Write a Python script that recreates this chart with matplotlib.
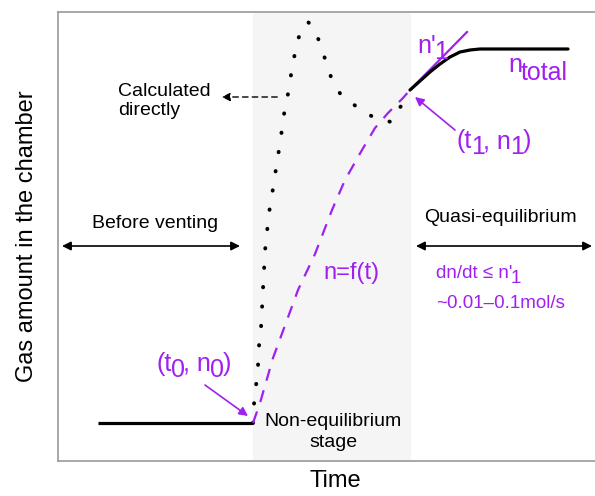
import matplotlib
matplotlib.use('Agg')
from matplotlib import pyplot as plt

plt.rcParams['font.family'] = ['Liberation Sans', 'DejaVu Sans']

PURPLE = '#a020f0'

# baseline before venting
base_t = [40, 195]
base_n = [38, 38]

# directly calculated (dotted) curve
calc_t = [195, 196, 198, 200, 201, 203, 204, 205, 206, 207, 209, 211, 214, 217,
          220, 223, 225, 229, 232, 235, 239, 244, 250, 255, 262, 268, 274, 283,
          299, 315, 333, 343, 352]
calc_n = [38, 57, 75, 95, 115, 133, 152, 172, 190, 210, 229, 248, 266, 286,
          305, 324, 342, 361, 380, 398, 418, 434, 439, 434, 418, 399, 381, 366,
          354, 344, 339, 355, 371]

# fitted n = f(t) (dashed)
fit_t = [195, 202, 215, 229, 240, 257, 274, 287, 304, 317, 330, 345, 352]
fit_n = [38, 58, 103, 141, 171, 207, 251, 281, 311, 333, 348, 363, 371]

# quasi-equilibrium part
quasi_t = [352, 362, 372, 382, 392, 402, 412, 422, 510]
quasi_n = [371, 380, 389, 397, 404, 409, 411, 412, 412]

# tangent n'1
tan_t = [352, 409]
tan_n = [371, 429]

stage_t = [195, 352]

fig = plt.figure(figsize=(5.95, 4.96), dpi=100)
ax = fig.add_axes([58 / 595, 35 / 496, 537 / 595, 449 / 496])
ax.set_xlim(0, 537)
ax.set_ylim(0, 449)
ax.set_xticks([])
ax.set_yticks([])
for s in ['left', 'top', 'bottom']:
    ax.spines[s].set_color('#999999')
    ax.spines[s].set_linewidth(1.2)
ax.spines['right'].set_visible(False)

ax.axvspan(stage_t[0], stage_t[1], color='#f5f5f5', zorder=0)

ax.plot(base_t, base_n, color='black', lw=2.3, solid_capstyle='butt')
ax.plot(calc_t, calc_n, color='black', lw=2.8, dashes=(0.1, 4.9),
        dash_capstyle='round')
ax.plot(fit_t, fit_n, color=PURPLE, lw=1.6, dashes=(5.5, 4.5))
ax.plot(tan_t, tan_n, color=PURPLE, lw=1.6)
ax.plot(quasi_t, quasi_n, color='black', lw=2.3, solid_capstyle='round')

# arrows
ax.annotate('', xy=(161, 364), xytext=(222, 364),
            arrowprops=dict(arrowstyle='-|>', color='black', lw=1.0,
                            linestyle=(0, (4, 3)), mutation_scale=12))
ax.annotate('', xy=(4, 215), xytext=(182, 215),
            arrowprops=dict(arrowstyle='<|-|>', color='black', lw=1.2,
                            mutation_scale=13, shrinkA=0, shrinkB=0))
ax.annotate('', xy=(358, 215), xytext=(534, 215),
            arrowprops=dict(arrowstyle='<|-|>', color='black', lw=1.2,
                            mutation_scale=13, shrinkA=0, shrinkB=0))
ax.annotate('', xy=(190, 45), xytext=(147, 76),
            arrowprops=dict(arrowstyle='-|>', color=PURPLE, lw=1.2,
                            mutation_scale=13, shrinkA=0, shrinkB=0))
ax.annotate('', xy=(357, 364), xytext=(397, 331),
            arrowprops=dict(arrowstyle='-|>', color=PURPLE, lw=1.2,
                            mutation_scale=13, shrinkA=0, shrinkB=0))


def put_parts(x, y, parts, size, color=PURPLE):
    # write text pieces one after another, subscripts shifted down
    renderer = fig.canvas.get_renderer()
    dx = 0
    for s, dy in parts:
        t = ax.annotate(s, (x, y), xytext=(dx, dy), textcoords='offset points',
                        fontsize=size, color=color, ha='left', va='baseline')
        dx += t.get_window_extent(renderer).width * 72 / fig.dpi - 1.0


# texts
ax.text(60, 360, 'Calculated\ndirectly', fontsize=14, ha='left', va='center',
        linespacing=1.2)
ax.text(97, 238, 'Before venting', fontsize=14, ha='center', va='center')
ax.text(442, 244, 'Quasi-equilibrium', fontsize=14, ha='center', va='center')
ax.text(275, 29, 'Non-equilibrium\nstage', fontsize=14, ha='center',
        va='center', linespacing=1.25)
ax.text(265, 188, 'n=f(t)', fontsize=17, ha='left', va='center', color=PURPLE)

sub = -4.5
put_parts(378, 183, [("dn/dt ≤ n'", 0), ('1', sub * 0.8)], 13.5)
ax.text(378, 158, '~0.01–0.1mol/s', fontsize=13.5, ha='left', va='center',
        color=PURPLE)
put_parts(99, 90, [('(t', 0), ('0', sub), (', n', 0), ('0', sub), (')', 0)], 18)
put_parts(399, 313, [('(t', 0), ('1', sub), (', n', 0), ('1', sub), (')', 0)], 18)
put_parts(359, 408, [("n'", 0), ('1', sub)], 18)
put_parts(450, 389, [('n', 0), ('total', -5.5)], 18)

fig.text(27 / 595, 1 - 236 / 496, 'Gas amount in the chamber', fontsize=17,
         rotation=90, ha='center', va='center')
fig.text(335 / 595, 1 - 481 / 496, 'Time', fontsize=17, ha='center',
         va='center')

fig.savefig('out.png', dpi=100)
